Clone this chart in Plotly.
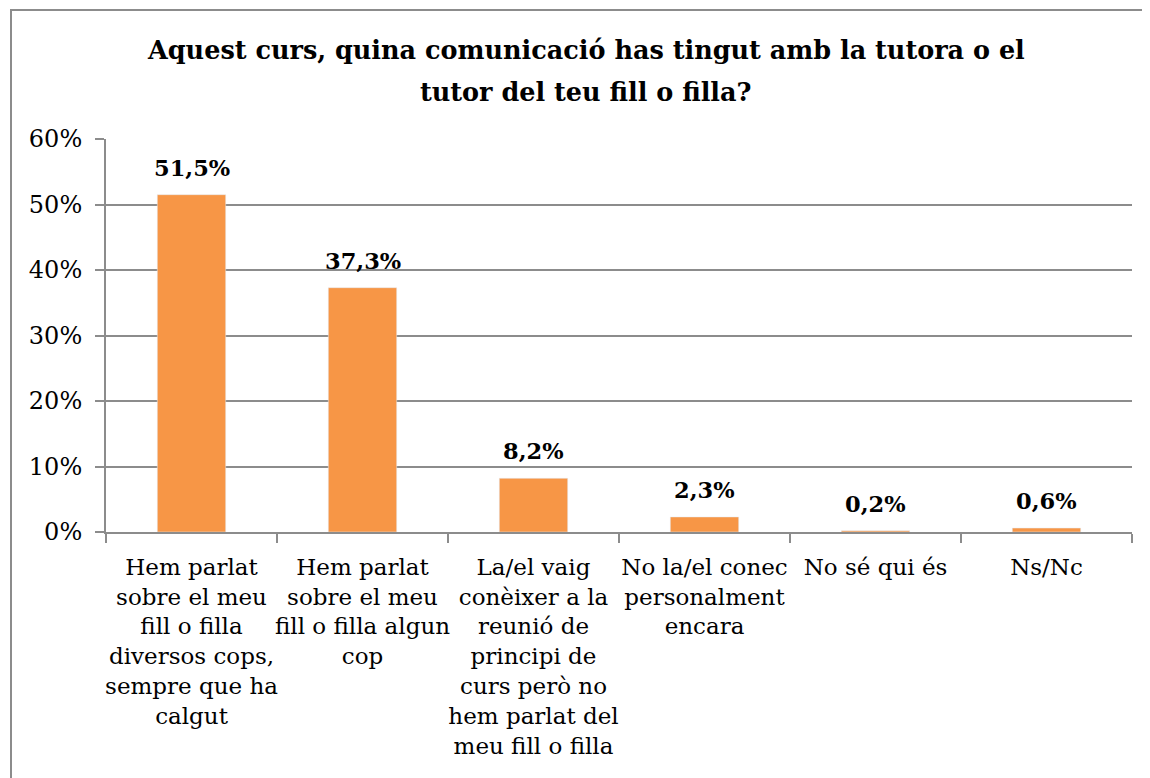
import plotly.graph_objects as go

categories = [
    "Hem parlat<br>sobre el meu<br>fill o filla<br>diversos cops,<br>sempre que ha<br>calgut",
    "Hem parlat<br>sobre el meu<br>fill o filla algun<br>cop",
    "La/el vaig<br>conèixer a la<br>reunió de<br>principi de<br>curs però no<br>hem parlat del<br>meu fill o filla",
    "No la/el conec<br>personalment<br>encara",
    "No sé qui és",
    "Ns/Nc",
]
values = [51.5, 37.3, 8.2, 2.3, 0.2, 0.6]
labels = ["51,5%", "37,3%", "8,2%", "2,3%", "0,2%", "0,6%"]
title_lines = [
    "Aquest curs, quina comunicació has tingut amb la tutora o el",
    "tutor del teu fill o filla?",
]

FONT = "DejaVu Serif"
GRID = "#8c8c8c"

# page body adds ~8px offset, so margins are shifted by that amount
L, R, T, B = 98, 26, 131, 254
W, H = 1150, 778
ph = H - T - B
pw = W - L - R

fig = go.Figure(
    go.Bar(
        x=categories,
        y=values,
        marker=dict(color="#F79646"),
    )
)

# value labels above the bars
for cat, val, lab in zip(categories, values, labels):
    fig.add_annotation(
        x=cat, y=val, text=f"<b>{lab}</b>", showarrow=False,
        yanchor="bottom", yshift=12,
        font=dict(family=FONT, size=22.5, color="black"),
    )

# title, one annotation per line to get the wider line spacing
for i, line in enumerate(title_lines):
    fig.add_annotation(
        xref="paper", yref="paper",
        x=0.468, y=1 + (T - 42 - 42 * i) / ph,
        text=f"<b>{line}</b>", showarrow=False,
        xanchor="center", yanchor="middle",
        font=dict(family=FONT, size=25.5, color="black"),
    )

fig.update_layout(
    width=W,
    height=H,
    margin=dict(l=L, r=R, t=T, b=B),
    plot_bgcolor="white",
    paper_bgcolor="white",
    bargap=0.6,
    showlegend=False,
    font=dict(family=FONT, color="black"),
    xaxis=dict(
        showline=True,
        linecolor=GRID,
        linewidth=2,
        ticks="outside",
        tickson="boundaries",
        ticklen=9,
        tickcolor=GRID,
        tickwidth=2,
        tickfont=dict(family=FONT, size=23),
        tickangle=0,
        ticklabelstandoff=13,
    ),
    yaxis=dict(
        range=[0, 60],
        dtick=10,
        ticksuffix="%",
        showgrid=True,
        gridcolor=GRID,
        gridwidth=1.5,
        showline=True,
        linecolor=GRID,
        linewidth=2,
        ticks="outside",
        ticklen=9,
        tickcolor=GRID,
        tickwidth=2,
        tickfont=dict(family=FONT, size=24),
        ticklabelstandoff=8,
        zeroline=False,
    ),
)

# outer chart border (right and bottom edges fall outside the image)
fig.add_shape(
    type="rect",
    xref="paper",
    yref="paper",
    x0=(3 - L) / pw,
    x1=1.2,
    y0=-2,
    y1=1 + (T - 2) / ph,
    line=dict(color=GRID, width=2),
    layer="below",
)

fig.write_html("out.html")
